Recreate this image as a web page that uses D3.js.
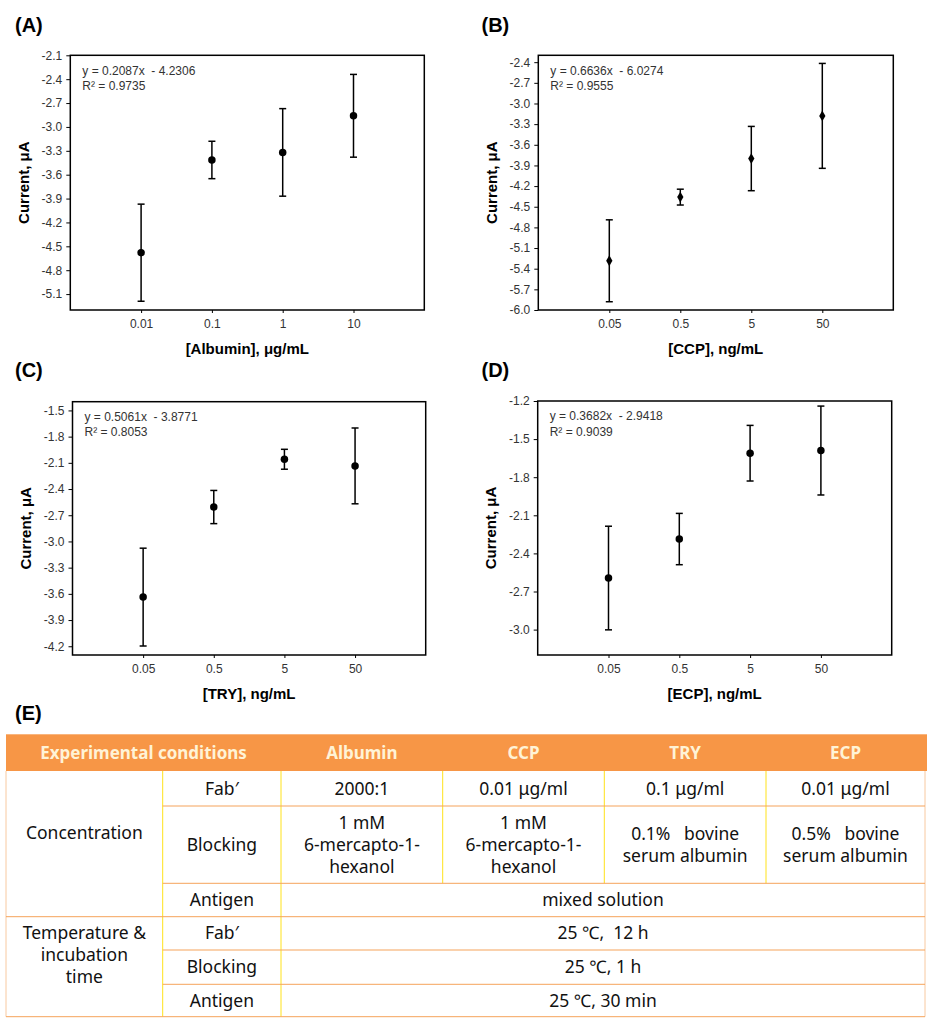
<!DOCTYPE html>
<html>
<head>
<meta charset="utf-8">
<script src="https://cdn.jsdelivr.net/npm/d3@7"></script>
<style>
  html, body { margin: 0; padding: 0; background: #fff; }
  svg { display: block; }
</style>
</head>
<body>
<svg id="chart" width="928" height="1022"></svg>
<script>
// ---------------- DATA ----------------
const panelLabels = ["(A)", "(B)", "(C)", "(D)"];
const xTitles = ["[Albumin], μg/mL", "[CCP], ng/mL", "[TRY], ng/mL", "[ECP], ng/mL"];
const yTitle = "Current, μA";

const concA = [0.01, 0.1, 1, 10];
const concB = [0.05, 0.5, 5, 50];
const concC = [0.05, 0.5, 5, 50];
const concD = [0.05, 0.5, 5, 50];

const xTickLabelsA = ["0.01", "0.1", "1", "10"];
const xTickLabelsB = ["0.05", "0.5", "5", "50"];
const xTickLabelsC = ["0.05", "0.5", "5", "50"];
const xTickLabelsD = ["0.05", "0.5", "5", "50"];

const meanA = [-4.58, -3.415, -3.32, -2.86];
const errA  = [0.61, 0.235, 0.55, 0.52];
const meanB = [-5.285, -4.36, -3.80, -3.18];
const errB  = [0.595, 0.115, 0.467, 0.762];
const meanC = [-3.637, -2.606, -2.059, -2.135];
const errC  = [0.56, 0.19, 0.114, 0.434];
const meanD = [-2.594, -2.287, -1.611, -1.59];
const errD  = [0.408, 0.202, 0.219, 0.35];

const yTicksA = [-2.1, -2.4, -2.7, -3.0, -3.3, -3.6, -3.9, -4.2, -4.5, -4.8, -5.1];
const yTicksB = [-2.4, -2.7, -3.0, -3.3, -3.6, -3.9, -4.2, -4.5, -4.8, -5.1, -5.4, -5.7, -6.0];
const yTicksC = [-1.5, -1.8, -2.1, -2.4, -2.7, -3.0, -3.3, -3.6, -3.9, -4.2];
const yTicksD = [-1.2, -1.5, -1.8, -2.1, -2.4, -2.7, -3.0];

const yDomainA = [-5.3, -2.1];
const yDomainB = [-6.0, -2.3];
const yDomainC = [-4.3, -1.4];
const yDomainD = [-3.2, -1.2];

const xDomainA = [0.001, 100];
const xDomainB = [0.005, 500];
const xDomainC = [0.005, 500];
const xDomainD = [0.005, 500];

const fitEquations = ["y = 0.2087x  - 4.2306", "y = 0.6636x  - 6.0274", "y = 0.5061x  - 3.8771", "y = 0.3682x  - 2.9418"];
const fitR2 = ["R² = 0.9735", "R² = 0.9555", "R² = 0.8053", "R² = 0.9039"];
const markerShapes = ["circle", "diamond", "circle", "circle"];

// Table data
const tableHeaders = ["Experimental conditions", "Albumin", "CCP", "TRY", "ECP"];
const groupConcentration = "Concentration";
const groupTemperature = ["Temperature &", "incubation", "time"];
const concRowLabels = ["Fab′", "Blocking", "Antigen"];
const fabConcentrations = ["2000:1", "0.01 μg/ml", "0.1 μg/ml", "0.01 μg/ml"];
const blockingAgents = [
  ["1 mM", "6-mercapto-1-", "hexanol"],
  ["1 mM", "6-mercapto-1-", "hexanol"],
  ["0.1%   bovine", "serum albumin"],
  ["0.5%   bovine", "serum albumin"]
];
const antigenConcentration = "mixed solution";
const tempRowLabels = ["Fab′", "Blocking", "Antigen"];
const tempConditions = ["25 ℃,  12 h", "25 ℃, 1 h", "25 ℃, 30 min"];

// ---------------- LAYOUT ----------------
const svg = d3.select("#chart");
const chartFont = "Arial, 'Liberation Sans', sans-serif";

const panels = [
  { label: panelLabels[0], lx: 15, ly: 25, frame: [70.3, 55.3, 424.3, 310], xd: xDomainA, yd: yDomainA, conc: concA, xt: xTickLabelsA, mean: meanA, err: errA, yt: yTicksA, eq: fitEquations[0], r2: fitR2[0], marker: markerShapes[0], xTitle: xTitles[0] },
  { label: panelLabels[1], lx: 481.5, ly: 25, frame: [538.3, 55.3, 893.3, 310], xd: xDomainB, yd: yDomainB, conc: concB, xt: xTickLabelsB, mean: meanB, err: errB, yt: yTicksB, eq: fitEquations[1], r2: fitR2[1], marker: markerShapes[1], xTitle: xTitles[1] },
  { label: panelLabels[2], lx: 15, ly: 370, frame: [72.5, 401.7, 425.7, 655], xd: xDomainC, yd: yDomainC, conc: concC, xt: xTickLabelsC, mean: meanC, err: errC, yt: yTicksC, eq: fitEquations[2], r2: fitR2[2], marker: markerShapes[2], xTitle: xTitles[2] },
  { label: panelLabels[3], lx: 481.5, ly: 370, frame: [537.7, 401, 891.7, 655], xd: xDomainD, yd: yDomainD, conc: concD, xt: xTickLabelsD, mean: meanD, err: errD, yt: yTicksD, eq: fitEquations[3], r2: fitR2[3], marker: markerShapes[3], xTitle: xTitles[3] }
];

panels.forEach(p => {
  const [x0, y0, x1, y1] = p.frame;
  const x = d3.scaleLog().domain(p.xd).range([x0, x1]);
  const y = d3.scaleLinear().domain(p.yd).range([y1, y0]);
  const g = svg.append("g");

  // panel label
  g.append("text").attr("x", p.lx).attr("y", p.ly).attr("dy", "0.35em")
    .attr("font-family", chartFont).attr("font-weight", "bold").attr("font-size", 20)
    .attr("fill", "#000").text(p.label);

  // y axis
  const yAxis = d3.axisLeft(y).tickValues(p.yt).tickFormat(d => d.toFixed(1))
    .tickSize(4).tickSizeOuter(0).tickPadding(4);
  const ya = g.append("g").attr("transform", `translate(${x0},0)`).call(yAxis);
  ya.select(".domain").remove();
  ya.selectAll("line").attr("stroke", "#000").attr("stroke-width", 1);
  ya.selectAll("text").attr("font-family", chartFont).attr("font-size", 12).attr("fill", "#333");

  // x axis
  const xAxis = d3.axisBottom(x).tickValues(p.conc).tickFormat((d, i) => p.xt[i])
    .tickSize(3).tickSizeOuter(0).tickPadding(6);
  const xa = g.append("g").attr("transform", `translate(0,${y1})`).call(xAxis);
  xa.select(".domain").remove();
  xa.selectAll("line").attr("stroke", "#000").attr("stroke-width", 1);
  xa.selectAll("text").attr("font-family", chartFont).attr("font-size", 12).attr("fill", "#333");

  // frame
  g.append("rect").attr("x", x0).attr("y", y0).attr("width", x1 - x0).attr("height", y1 - y0)
    .attr("fill", "none").attr("stroke", "#000").attr("stroke-width", 1.5);

  // axis titles
  g.append("text").attr("x", (x0 + x1) / 2).attr("y", y1 + 39).attr("dy", "0.35em")
    .attr("text-anchor", "middle").attr("font-family", chartFont).attr("font-weight", "bold")
    .attr("font-size", 15).attr("fill", "#000").text(p.xTitle);
  g.append("text").attr("transform", `translate(${x0 - 47},${(y0 + y1) / 2}) rotate(-90)`)
    .attr("dy", "0.35em").attr("text-anchor", "middle").attr("font-family", chartFont)
    .attr("font-weight", "bold").attr("font-size", 15).attr("fill", "#000").text(yTitle);

  // regression text
  g.append("text").attr("x", x0 + 12).attr("y", y0 + 15).attr("dy", "0.35em")
    .attr("font-family", chartFont).attr("font-size", 12).attr("fill", "#333")
    .style("white-space", "pre").text(p.eq);
  g.append("text").attr("x", x0 + 12).attr("y", y0 + 30.5).attr("dy", "0.35em")
    .attr("font-family", chartFont).attr("font-size", 12).attr("fill", "#333")
    .text(p.r2);

  // error bars
  const pts = p.conc.map((c, i) => ({ c, m: p.mean[i], e: p.err[i] }));
  const eb = g.append("g").attr("stroke", "#000").attr("stroke-width", 1.5);
  eb.selectAll("line.v").data(pts).join("line").attr("class", "v")
    .attr("x1", d => x(d.c)).attr("x2", d => x(d.c))
    .attr("y1", d => y(d.m + d.e)).attr("y2", d => y(d.m - d.e));
  eb.selectAll("line.t").data(pts).join("line").attr("class", "t")
    .attr("x1", d => x(d.c) - 3.5).attr("x2", d => x(d.c) + 3.5)
    .attr("y1", d => y(d.m + d.e)).attr("y2", d => y(d.m + d.e));
  eb.selectAll("line.b").data(pts).join("line").attr("class", "b")
    .attr("x1", d => x(d.c) - 3.5).attr("x2", d => x(d.c) + 3.5)
    .attr("y1", d => y(d.m - d.e)).attr("y2", d => y(d.m - d.e));

  // markers
  const sym = p.marker === "diamond"
    ? d3.symbol().type(d3.symbolDiamond).size(34)
    : d3.symbol().type(d3.symbolCircle).size(44);
  g.selectAll("path.pt").data(pts).join("path").attr("class", "pt")
    .attr("transform", d => `translate(${x(d.c)},${y(d.m)})`)
    .attr("d", sym).attr("fill", "#000");
});

// (E) label
svg.append("text").attr("x", 15).attr("y", 713).attr("dy", "0.35em")
  .attr("font-family", chartFont).attr("font-weight", "bold").attr("font-size", 20)
  .attr("fill", "#000").text("(E)");

// ---------------- TABLE ----------------
const tFont = "'Noto Sans', 'Noto Sans CJK KR', sans-serif";
const colX = [6, 162.7, 281, 442.7, 604.3, 766, 925];
const rowY = [734.3, 771, 806, 883.3, 916.7, 950, 984.3, 1016.7];
const headerFill = "#F79646";
const hLine = "#F5A35A";
const vLine = "#FFE21A";
const tg = svg.append("g");

// header band
tg.append("rect").attr("x", colX[0]).attr("y", rowY[0]).attr("width", colX[6] + 2 - colX[0])
  .attr("height", rowY[1] - rowY[0]).attr("fill", headerFill);
const headerCenters = [(colX[0] + colX[2]) / 2, (colX[2] + colX[3]) / 2, (colX[3] + colX[4]) / 2, (colX[4] + colX[5]) / 2, (colX[5] + colX[6]) / 2];
tg.selectAll("text.h").data(tableHeaders).join("text").attr("class", "h")
  .attr("x", (d, i) => headerCenters[i]).attr("y", (rowY[0] + rowY[1]) / 2).attr("dy", "0.35em")
  .attr("text-anchor", "middle").attr("font-family", tFont).attr("font-weight", "bold")
  .attr("font-size", 17).attr("fill", "#FFF3D6").text(d => d);

// lines
const hl = (xa, xb, yy) => tg.append("line").attr("x1", xa).attr("x2", xb).attr("y1", yy).attr("y2", yy)
  .attr("stroke", hLine).attr("stroke-width", 1);
const vl = (xx, ya, yb, c) => tg.append("line").attr("x1", xx).attr("x2", xx).attr("y1", ya).attr("y2", yb)
  .attr("stroke", c).attr("stroke-width", 1);
vl(colX[0], rowY[1], rowY[7], "#F8C9A0");
vl(colX[6], rowY[1], rowY[7], "#F8C9A0");
vl(colX[1], rowY[1], rowY[7], vLine);
vl(colX[2], rowY[1], rowY[7], vLine);
vl(colX[3], rowY[1], rowY[3], vLine);
vl(colX[4], rowY[1], rowY[3], vLine);
vl(colX[5], rowY[1], rowY[3], vLine);
hl(colX[1], colX[6], rowY[2]);
hl(colX[1], colX[6], rowY[3]);
hl(colX[0], colX[6], rowY[4]);
hl(colX[1], colX[6], rowY[5]);
hl(colX[1], colX[6], rowY[6]);
hl(colX[0], colX[6], rowY[7]);

const cellText = (cx, cy, lines) => {
  const lh = 22;
  const n = lines.length;
  lines.forEach((t, i) => {
    tg.append("text").attr("x", cx).attr("y", cy + (i - (n - 1) / 2) * lh).attr("dy", "0.35em")
      .attr("text-anchor", "middle").attr("font-family", tFont).attr("font-size", 17.5)
      .attr("fill", "#111").style("white-space", "pre").text(t);
  });
};
const cxCol = i => (colX[i] + colX[i + 1]) / 2;
const cyRow = i => (rowY[i] + rowY[i + 1]) / 2;

cellText((colX[0] + colX[1]) / 2, 833, [groupConcentration]);
concRowLabels.forEach((t, i) => cellText(cxCol(1), cyRow(1 + i), [t]));
fabConcentrations.forEach((t, i) => cellText(cxCol(2 + i), cyRow(1), [t]));
blockingAgents.forEach((lines, i) => cellText(cxCol(2 + i), cyRow(2), lines));
cellText((colX[2] + colX[6]) / 2, cyRow(3), [antigenConcentration]);
cellText((colX[0] + colX[1]) / 2, 955, groupTemperature);
tempRowLabels.forEach((t, i) => cellText(cxCol(1), cyRow(4 + i), [t]));
tempConditions.forEach((t, i) => cellText((colX[2] + colX[6]) / 2, cyRow(4 + i), [t]));
</script>
</body>
</html>
